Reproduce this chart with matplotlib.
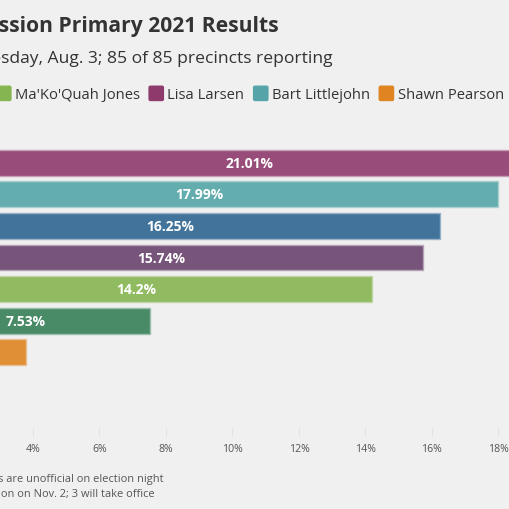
import matplotlib
matplotlib.use("Agg")
import matplotlib.pyplot as plt
import matplotlib.colors as mc
from matplotlib.patches import FancyBboxPatch
from matplotlib.ticker import FuncFormatter

# ---- data ----
candidates = ["Lisa Larsen", "Bart Littlejohn", "Courtney Shipley", "Amber Sellers",
              "Ma'Ko'Quah Jones", "Brad Finkeldei", "Shawn Pearson"]
values = [21.01, 17.99, 16.25, 15.74, 14.2, 7.53, 3.78]
bar_labels = ["21.01%", "17.99%", "16.25%", "15.74%", "14.2%", "7.53%", "3.78%"]
colors = ["#8e3a6d", "#55a5a8", "#2e6592", "#6a436c", "#85b550", "#388058", "#df8420"]
legend_names = ["Brad Finkeldei", "Ma'Ko'Quah Jones", "Lisa Larsen", "Bart Littlejohn", "Shawn Pearson"]
legend_colors = ["#388058", "#85b550", "#8e3a6d", "#55a5a8", "#df8420"]
x_ticks = [0, 2, 4, 6, 8, 10, 12, 14, 16, 18, 20, 22]

title = "Lawrence City Commission Primary 2021 Results"
subtitle = "Tuesday, Aug. 3; 85 of 85 precincts reporting"
note1 = "Note: Results are unofficial on election night"
note2 = "Top six advance to the general election on Nov. 2; 3 will take office"

BG = "#f0f0f0"
FONT = ["Open Sans", "DejaVu Sans"]
plt.rcParams["font.family"] = FONT

W = H = 510
fig = plt.figure(figsize=(5.1, 5.1), dpi=100, facecolor=BG)

def fx(px):
    return px / W

def fy(py):
    return 1 - py / H

# axes: left edge lies off-canvas
ax_left, ax_right, ax_top, ax_bottom = -100, 648, 140, 433
ax = fig.add_axes([fx(ax_left), fy(ax_bottom), (ax_right - ax_left) / W, (ax_bottom - ax_top) / H])
ax.set_facecolor(BG)

def blend(c, a):
    r, g, b = mc.to_rgb(c)
    br, bg_, bb = mc.to_rgb(BG)
    return (r * a + br * (1 - a), g * a + bg_ * (1 - a), b * a + bb * (1 - a))

ypos = list(range(len(candidates)))
for i, (v, c, lab) in enumerate(zip(values, colors, bar_labels)):
    ax.barh(i, v, height=0.82, color=blend(c, 0.9), edgecolor=blend(c, 0.45), linewidth=1.0)
    ax.text(v / 2, i, lab, ha="center", va="center", color="white",
            fontsize=10, fontweight="bold")

ax.set_xlim(0, 22.5)
ax.set_ylim(8.52, -0.75)
ax.set_yticks(ypos)
ax.set_yticklabels(candidates, fontsize=10, color="#333333")
ax.tick_params(axis="y", length=0)
ax.set_xticks(x_ticks)
ax.xaxis.set_major_formatter(FuncFormatter(lambda v, p: f"{int(v)}%"))
ax.tick_params(axis="x", direction="inout", length=6, color="#e2e2e2",
               labelsize=7.6, labelcolor="#555555", pad=5)
for s in ax.spines.values():
    s.set_visible(False)

# ---- titles ----
fig.text(fx(278.5), fy(32.3), title, ha="right", va="baseline", fontsize=15.1,
         fontweight="bold", color="#333333")
fig.text(fx(333.0), fy(63.3), subtitle, ha="right", va="baseline", fontsize=12.6,
         color="#333333")

# ---- legend (manual, laid out sequentially) ----
fig.canvas.draw()
renderer = fig.canvas.get_renderer()
sq = 14.5
gap_sq_txt = 4
gap_txt_sq = 9
legend_fs = 10.6
base_y = 99.3
anchor_idx = 1
anchor_sq_x = -3.5

widths = []
for name in legend_names:
    t = fig.text(0, 0, name, fontsize=legend_fs)
    bb = t.get_window_extent(renderer)
    widths.append(bb.width)
    t.remove()

starts = [0.0] * len(legend_names)
starts[anchor_idx] = anchor_sq_x
for k in range(anchor_idx + 1, len(legend_names)):
    starts[k] = starts[k - 1] + sq + gap_sq_txt + widths[k - 1] + gap_txt_sq
for k in range(anchor_idx - 1, -1, -1):
    starts[k] = starts[k + 1] - (sq + gap_sq_txt + widths[k] + gap_txt_sq)

for k, (name, c) in enumerate(zip(legend_names, legend_colors)):
    x0 = starts[k]
    patch = FancyBboxPatch((fx(x0 + 1.5), fy(base_y + 0.8)), (sq - 3) / W, (sq - 3) / H,
                           boxstyle="round,pad=0.003", transform=fig.transFigure,
                           facecolor=c, edgecolor=c, linewidth=0.8)
    fig.add_artist(patch)
    fig.text(fx(x0 + sq + gap_sq_txt), fy(base_y), name, ha="left", va="baseline",
             fontsize=legend_fs, color="#333333")

# ---- footnotes ----
fig.text(fx(163.5), fy(482), note1, ha="right", va="baseline", fontsize=7.9, color="#555555")
fig.text(fx(154.5), fy(497), note2, ha="right", va="baseline", fontsize=7.9, color="#555555")

fig.savefig("out.png", dpi=100, facecolor=BG)
